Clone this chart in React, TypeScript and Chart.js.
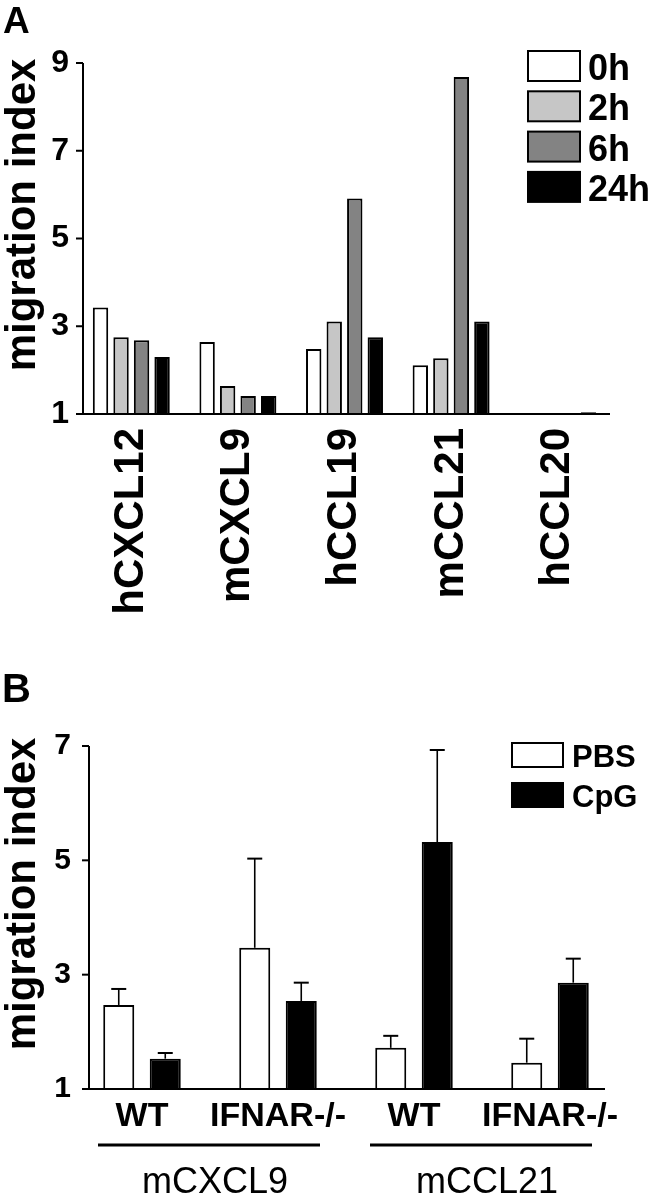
import React, { useEffect, useRef } from "react";
import { Chart, registerables } from "chart.js";

Chart.register(...registerables);

const FONT = "'Liberation Sans', Arial, Helvetica, sans-serif";

// ---------- Panel A data ----------
const chemokinesA = ["hCXCL12", "mCXCL9", "hCCL19", "mCCL21", "hCCL20"];
const timeLabels = ["0h", "2h", "6h", "24h"];
const values0h = [3.43, 2.64, 2.48, 2.11, 1.0];
const values2h = [2.75, 1.64, 3.11, 2.27, 1.0];
const values6h = [2.68, 1.41, 5.91, 8.68, 1.0];
const values24h = [2.3, 1.41, 2.75, 3.11, 1.04];
const timeColors = ["#ffffff", "#c6c6c6", "#838383", "#000000"];
const yTicksA = [1, 3, 5, 7, 9];

// ---------- Panel B data ----------
const genotypes = ["WT", "IFNAR-/-", "WT", "IFNAR-/-"];
const chemokineGroupsB = ["mCXCL9", "mCCL21"];
const treatments = ["PBS", "CpG"];
const pbsValues = [2.47, 3.47, 1.72, 1.46];
const pbsErrors = [0.28, 1.56, 0.21, 0.42];
const cpgValues = [1.53, 2.54, 5.32, 2.86];
const cpgErrors = [0.1, 0.32, 1.61, 0.42];
const treatmentColors = ["#ffffff", "#000000"];
const yTicksB = [1, 3, 5, 7];

type Decor = {
  letter: string;
  letterX: number;
  letterY: number;
  letterFont: string;
  title: string;
  titleX: number;
  titleY: number;
  titleFont: string;
  axisInset: number;
  tickLen: number;
  baselineRightInset: number;
  yTicks: number[];
  legend: {
    labels: string[];
    colors: string[];
    x: number;
    top: number;
    step: number;
    boxW: number;
    boxH: number;
    textX: number;
    baseOff: number;
    font: string;
  };
  errors?: number[][];
  groups?: {
    labels: string[];
    ranges: [number, number][];
    lineY: number;
    padL: number;
    padR: number;
    labelY: number;
    labelDx: number;
    font: string;
  };
};

function makeDecor(d: Decor) {
  return {
    id: "decor",
    afterDatasetsDraw(chart: any) {
      if (!d.errors) return;
      const ctx = chart.ctx;
      const y = chart.scales.y;
      ctx.save();
      ctx.strokeStyle = "#000";
      d.errors.forEach((errs, di) => {
        const meta = chart.getDatasetMeta(di);
        const vals = chart.data.datasets[di].data as number[];
        meta.data.forEach((bar: any, i: number) => {
          const top = y.getPixelForValue(vals[i] + errs[i]);
          ctx.lineWidth = 1.6;
          ctx.beginPath();
          ctx.moveTo(bar.x, bar.y);
          ctx.lineTo(bar.x, top);
          ctx.stroke();
          ctx.lineWidth = 2;
          ctx.beginPath();
          ctx.moveTo(bar.x - 7.5, top);
          ctx.lineTo(bar.x + 7.5, top);
          ctx.stroke();
        });
      });
      ctx.restore();
    },
    afterDraw(chart: any) {
      const ctx = chart.ctx;
      const ca = chart.chartArea;
      const y = chart.scales.y;
      const x = chart.scales.x;
      ctx.save();
      ctx.strokeStyle = "#000";
      ctx.fillStyle = "#000";
      // axes
      const ax = ca.left + d.axisInset;
      const yTop = y.getPixelForValue(y.max);
      const yBot = y.getPixelForValue(y.min);
      ctx.lineWidth = 2;
      ctx.beginPath();
      ctx.moveTo(ax, yTop);
      ctx.lineTo(ax, yBot);
      ctx.stroke();
      d.yTicks.forEach((v) => {
        const py = y.getPixelForValue(v);
        ctx.beginPath();
        ctx.moveTo(ax - d.tickLen, py);
        ctx.lineTo(ax, py);
        ctx.stroke();
      });
      ctx.beginPath();
      ctx.moveTo(ax - d.tickLen, yBot);
      ctx.lineTo(ca.right - d.baselineRightInset, yBot);
      ctx.stroke();
      // panel letter
      ctx.font = d.letterFont;
      ctx.textAlign = "left";
      ctx.textBaseline = "alphabetic";
      ctx.fillText(d.letter, d.letterX, d.letterY);
      // y title
      ctx.save();
      ctx.translate(d.titleX, d.titleY);
      ctx.rotate(-Math.PI / 2);
      ctx.font = d.titleFont;
      ctx.textAlign = "center";
      ctx.textBaseline = "alphabetic";
      ctx.fillText(d.title, 0, 0);
      ctx.restore();
      // legend
      const L = d.legend;
      L.labels.forEach((lab, i) => {
        const top = L.top + i * L.step;
        ctx.fillStyle = L.colors[i];
        ctx.fillRect(L.x, top, L.boxW, L.boxH);
        ctx.lineWidth = 2;
        ctx.strokeStyle = "#000";
        ctx.strokeRect(L.x, top, L.boxW, L.boxH);
        ctx.fillStyle = "#000";
        ctx.font = L.font;
        ctx.textAlign = "left";
        ctx.textBaseline = "alphabetic";
        ctx.fillText(lab, L.textX, top + L.baseOff);
      });
      // groups
      if (d.groups) {
        const G = d.groups;
        G.ranges.forEach(([a, b], gi) => {
          const x1 = x.getPixelForValue(a) - G.padL;
          const x2 = x.getPixelForValue(b) + G.padR;
          ctx.lineWidth = 3;
          ctx.beginPath();
          ctx.moveTo(x1, G.lineY);
          ctx.lineTo(x2, G.lineY);
          ctx.stroke();
          ctx.font = G.font;
          ctx.textAlign = "center";
          ctx.textBaseline = "alphabetic";
          ctx.fillText(G.labels[gi], (x1 + x2) / 2 + G.labelDx, G.labelY);
        });
      }
      ctx.restore();
    },
  };
}

function configA(): any {
  const series = [values0h, values2h, values6h, values24h];
  return {
    type: "bar",
    data: {
      labels: chemokinesA,
      datasets: series.map((data, i) => ({
        label: timeLabels[i],
        data,
        backgroundColor: timeColors[i],
        borderColor: "#000",
        borderWidth: 2,
        categoryPercentage: 0.77,
        barPercentage: 0.75,
      })),
    },
    options: {
      responsive: false,
      animation: false,
      layout: { padding: { top: 63, right: 42, bottom: 0, left: 0 } },
      plugins: { legend: { display: false }, tooltip: { enabled: false } },
      scales: {
        x: {
          grid: { display: false, drawTicks: false },
          border: { display: false },
          ticks: {
            autoSkip: false,
            minRotation: 90,
            maxRotation: 90,
            padding: 14,
            color: "#000",
            font: { family: FONT, size: 42, weight: "bold" },
          },
          afterFit: (s: any) => {
            s.height = 206;
          },
        },
        y: {
          min: 1,
          max: 9,
          afterBuildTicks: (s: any) => {
            s.ticks = yTicksA.map((v) => ({ value: v }));
          },
          grid: { display: false, drawTicks: false },
          border: { display: false },
          ticks: {
            padding: 9,
            color: "#000",
            font: { family: FONT, size: 32, weight: "bold" },
          },
          afterFit: (s: any) => {
            s.width = 78;
          },
        },
      },
    },
    plugins: [
      makeDecor({
        letter: "A",
        letterX: 3,
        letterY: 33,
        letterFont: `bold 37px ${FONT}`,
        title: "migration index",
        titleX: 35,
        titleY: 215,
        titleFont: `bold 42px ${FONT}`,
        axisInset: 5,
        tickLen: 7,
        baselineRightInset: 1,
        yTicks: yTicksA,
        legend: {
          labels: timeLabels,
          colors: timeColors,
          x: 528,
          top: 51,
          step: 40.3,
          boxW: 52,
          boxH: 30,
          textX: 588,
          baseOff: 29,
          font: `bold 36px ${FONT}`,
        },
      }),
    ],
  };
}

function configB(): any {
  const series = [pbsValues, cpgValues];
  return {
    type: "bar",
    data: {
      labels: genotypes,
      datasets: series.map((data, i) => ({
        label: treatments[i],
        data,
        backgroundColor: treatmentColors[i],
        borderColor: "#000",
        borderWidth: 2,
        categoryPercentage: 0.684,
        barPercentage: 0.667,
      })),
    },
    options: {
      responsive: false,
      animation: false,
      layout: { padding: { top: 126, right: 35, bottom: 0, left: 0 } },
      plugins: { legend: { display: false }, tooltip: { enabled: false } },
      scales: {
        x: {
          grid: { display: false, drawTicks: false },
          border: { display: false },
          ticks: {
            autoSkip: false,
            maxRotation: 0,
            padding: 7,
            color: "#000",
            font: { family: FONT, size: 34, weight: "bold" },
          },
          afterFit: (s: any) => {
            s.height = 110;
          },
        },
        y: {
          min: 1,
          max: 7,
          afterBuildTicks: (s: any) => {
            s.ticks = yTicksB.map((v) => ({ value: v }));
          },
          grid: { display: false, drawTicks: false },
          border: { display: false },
          ticks: {
            padding: 3,
            color: "#000",
            font: { family: FONT, size: 30, weight: "bold" },
          },
          afterFit: (s: any) => {
            s.width = 74;
          },
        },
      },
    },
    plugins: [
      makeDecor({
        letter: "B",
        letterX: 2,
        letterY: 82,
        letterFont: `bold 40px ${FONT}`,
        title: "migration index",
        titleX: 35,
        titleY: 274,
        titleFont: `bold 42px ${FONT}`,
        axisInset: 15,
        tickLen: 7,
        baselineRightInset: 13,
        yTicks: yTicksB,
        legend: {
          labels: treatments,
          colors: treatmentColors,
          x: 512,
          top: 123,
          step: 40,
          boxW: 51,
          boxH: 24,
          textX: 572,
          baseOff: 24,
          font: `bold 31px ${FONT}`,
        },
        errors: [pbsErrors, cpgErrors],
        groups: {
          labels: chemokineGroupsB,
          ranges: [
            [0, 1],
            [2, 3],
          ],
          lineY: 525,
          padL: 44,
          padR: 42,
          labelY: 573,
          labelDx: 6,
          font: `36px ${FONT}`,
        },
      }),
    ],
  };
}

export default function App() {
  const refA = useRef<HTMLCanvasElement | null>(null);
  const refB = useRef<HTMLCanvasElement | null>(null);
  useEffect(() => {
    Chart.defaults.font.family = FONT;
    const a = new Chart(refA.current as HTMLCanvasElement, configA());
    const b = new Chart(refB.current as HTMLCanvasElement, configB());
    return () => {
      a.destroy();
      b.destroy();
    };
  }, []);
  return (
    <div
      style={{
        position: "absolute",
        left: 0,
        top: 0,
        width: 653,
        height: 1199,
        background: "#fff",
      }}
    >
      <canvas
        ref={refA}
        width={653}
        height={620}
        style={{ position: "absolute", left: 0, top: 0, display: "block" }}
      />
      <canvas
        ref={refB}
        width={653}
        height={579}
        style={{ position: "absolute", left: 0, top: 620, display: "block" }}
      />
    </div>
  );
}
